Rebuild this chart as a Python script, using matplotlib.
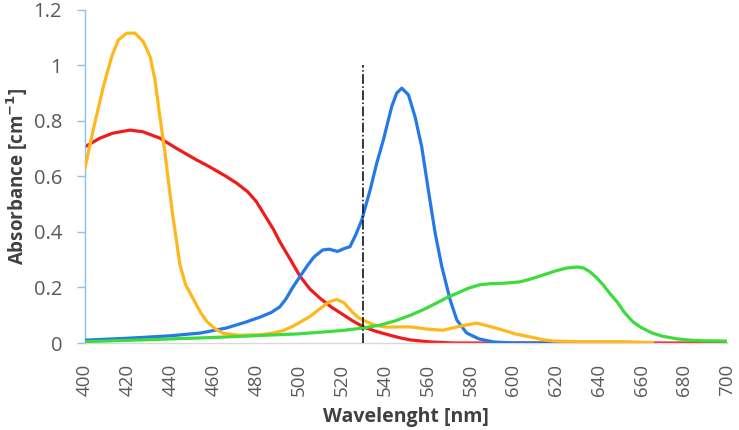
import numpy as np
import matplotlib.pyplot as plt

# --- data (wavelength nm, absorbance cm^-1) ---
red_wl = [400, 407, 413, 421, 427, 435, 443, 452, 457, 466, 471, 476, 480, 484, 488, 491, 496, 500.5, 505,
          510, 515, 519, 525, 530, 536, 542, 547, 552, 561, 572, 700]
red_abs = [0.707, 0.738, 0.756, 0.767, 0.761, 0.738, 0.70, 0.66, 0.64, 0.60, 0.575, 0.545, 0.51, 0.46, 0.41, 0.365, 0.30,
           0.24, 0.195, 0.16, 0.13, 0.11, 0.08, 0.058, 0.042, 0.029, 0.019, 0.011, 0.004, 0.0, 0.0]

blue_wl = [400, 422, 440, 454, 466, 475, 482, 487, 491, 494, 497, 500.5, 504, 507, 511, 514, 518, 521,
           523.8, 526.5, 529.3, 533.2, 536.3, 539.4, 543.3, 545.6, 548, 551.1, 554.2, 557.3, 560.4,
           563.6, 566.7, 570.6, 573.7, 578.3, 584, 590.6, 600, 650]
blue_abs = [0.01, 0.018, 0.026, 0.036, 0.054, 0.075, 0.094, 0.11, 0.13, 0.16, 0.20, 0.24, 0.28, 0.31, 0.335, 0.338, 0.33, 0.34,
            0.347, 0.39, 0.443, 0.551, 0.648, 0.732, 0.852, 0.90, 0.918, 0.894, 0.815, 0.707, 0.551,
            0.395, 0.275, 0.155, 0.083, 0.036, 0.015, 0.004, 0.0, 0.0]

orange_wl = [400, 403.9, 408.6, 412.5, 415.6, 419.5, 423.4, 427.2, 430.4, 432.7, 435, 437.4, 438.9, 441, 444.4,
             447, 450.5, 454, 457, 461, 464.5, 472, 482, 488, 492.6, 497, 500.5, 505, 510, 514, 517.6, 521,
             525, 528, 532, 536, 541, 547, 552, 560, 567, 575, 583, 589, 595, 601, 608, 614, 619, 630, 650, 665]
orange_abs = [0.63, 0.77, 0.924, 1.032, 1.092, 1.116, 1.116, 1.086, 1.032, 0.948, 0.815, 0.684, 0.587, 0.46, 0.28,
              0.21, 0.16, 0.11, 0.077, 0.05, 0.035, 0.028, 0.03, 0.036, 0.045, 0.06, 0.075, 0.095, 0.125, 0.148, 0.157, 0.145,
              0.11, 0.09, 0.075, 0.063, 0.057, 0.058, 0.058, 0.05, 0.046, 0.06, 0.072, 0.06, 0.047, 0.033, 0.022, 0.012, 0.007,
              0.005, 0.005, 0.002]

green_wl = [400, 430, 460, 500, 520, 530, 538, 545, 552, 558, 564.5, 569, 574, 579, 584.5, 590, 595, 603,
            608, 614, 620, 625, 630, 633, 636, 639, 642, 645, 648.6, 652, 656, 660, 665, 670, 676.6, 683, 689, 700]
green_abs = [0.005, 0.012, 0.02, 0.033, 0.045, 0.054, 0.065, 0.08, 0.10, 0.12, 0.145, 0.163, 0.18, 0.197, 0.21, 0.214, 0.215, 0.22,
             0.23, 0.245, 0.26, 0.27, 0.274, 0.27, 0.256, 0.235, 0.21, 0.18, 0.148, 0.11, 0.076, 0.055, 0.036, 0.024, 0.015, 0.01,
             0.008, 0.007]

marker_wl = 530
marker_top = 1.0

x_ticks = list(range(400, 701, 20))
y_ticks = [0, 0.2, 0.4, 0.6, 0.8, 1.0, 1.2]
y_tick_labels = ['0', '0.2', '0.4', '0.6', '0.8', '1', '1.2']

plt.rcParams['font.family'] = ['Open Sans', 'DejaVu Sans']

fig = plt.figure(figsize=(7.39, 4.30), dpi=100)
ax = fig.add_axes([0.115, 0.2023, 0.869, 0.7747])

lw = 2.3
ax.plot(red_wl, red_abs, color='#EE1C1C', lw=lw, zorder=2, solid_joinstyle='round')
ax.plot(blue_wl, blue_abs, color='#2479E6', lw=lw, zorder=3, solid_joinstyle='round')
ax.plot(orange_wl, orange_abs, color='#FFB81C', lw=lw, zorder=4, solid_joinstyle='round')
ax.plot(green_wl, green_abs, color='#3CDC3C', lw=lw, zorder=5, solid_joinstyle='round')

ax.plot([marker_wl, marker_wl], [0, marker_top], color='black', lw=1.1, ls='-.', zorder=6)

ax.set_xlim(400, 700)
ax.set_ylim(0, 1.2)
ax.set_xticks(x_ticks)
ax.set_xticklabels([str(t) for t in x_ticks], rotation=90)
ax.set_yticks(y_ticks)
ax.set_yticklabels(y_tick_labels)

for s in ['top', 'right']:
    ax.spines[s].set_visible(False)
ax.spines['left'].set_color('#8EC0EE')
ax.spines['left'].set_linewidth(1.0)
ax.spines['bottom'].set_color('#D9D9D9')
ax.spines['bottom'].set_linewidth(1.0)

ax.tick_params(axis='y', colors='#8EC0EE', length=5.5, width=1.0, labelcolor='#595959', labelsize=14.5, pad=11)
ax.tick_params(axis='x', length=0, labelcolor='#595959', labelsize=13.5, pad=15)

ax.set_xlabel('Wavelenght [nm]', fontsize=14, fontweight='bold', color='#404040', labelpad=8)
ax.set_ylabel(r'Absorbance [cm$^{\mathbf{-1}}$]', fontsize=13.5, fontweight='bold', color='#404040')
ax.yaxis.set_label_coords(-0.085, 0.5)

fig.savefig('out.png', dpi=100)
